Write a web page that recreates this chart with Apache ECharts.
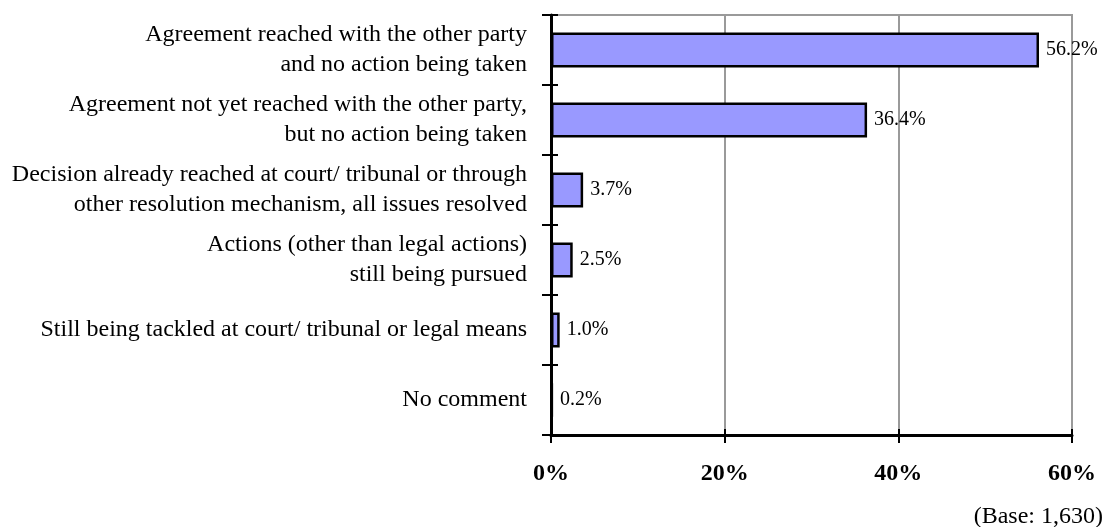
<!DOCTYPE html>
<html>
<head>
<meta charset="utf-8">
<title>Current status of the dispute</title>
<script src="https://cdn.jsdelivr.net/npm/echarts@6/dist/echarts.min.js"></script>
<style>
  html, body { margin: 0; padding: 0; background: #ffffff; }
  #chart { width: 1104px; height: 527px; }
</style>
</head>
<body>
<div id="chart"></div>
<script>
// Status of the dispute (percentage of respondents)
var categories = [
  'Agreement reached with the other party\nand no action being taken',
  'Agreement not yet reached with the other party,\nbut no action being taken',
  'Decision already reached at court/ tribunal or through\nother resolution mechanism, all issues resolved',
  'Actions (other than legal actions)\nstill being pursued',
  'Still being tackled at court/ tribunal or legal means',
  'No comment'
];
var shares = [56.2, 36.4, 3.7, 2.5, 1.0, 0.2];
var axisMin = 0;
var axisMax = 60;
var axisStep = 20;
var baseNote = '(Base: 1,630)';

var serif = '"Liberation Serif", "Times New Roman", Times, serif';

var chart = echarts.init(document.getElementById('chart'), null, { renderer: 'canvas' });

chart.setOption({
  animation: false,
  backgroundColor: '#ffffff',
  grid: {
    left: 551,
    right: 32,
    top: 15,
    bottom: 92,
    show: true,
    borderColor: '#9a9a9a',
    borderWidth: 2,
    backgroundColor: 'transparent'
  },
  xAxis: [
    {
      type: 'value',
      position: 'bottom',
      min: axisMin,
      max: axisMax,
      interval: axisStep,
      axisLine: { show: true, onZero: false, lineStyle: { color: '#000000', width: 3 } },
      axisTick: { show: true, inside: false, length: 8, lineStyle: { color: '#000000', width: 2 } },
      splitLine: { show: true, lineStyle: { color: '#9a9a9a', width: 2 } },
      axisLabel: {
        margin: 27,
        fontFamily: serif,
        fontSize: 24,
        fontWeight: 'bold',
        color: '#000000',
        formatter: function (v) { return v + '%'; }
      }
    },
    {
      // short inner half of the crossing tick marks
      type: 'value',
      position: 'bottom',
      min: axisMin,
      max: axisMax,
      interval: axisStep,
      axisLine: { show: false },
      axisTick: { show: true, inside: true, length: 6, lineStyle: { color: '#000000', width: 2 } },
      splitLine: { show: false },
      axisLabel: { show: false }
    }
  ],
  yAxis: [
    {
      type: 'category',
      data: categories,
      inverse: true,
      position: 'left',
      axisLine: { show: true, lineStyle: { color: '#000000', width: 3 } },
      axisTick: { show: true, inside: false, length: 9, lineStyle: { color: '#000000', width: 2 } },
      splitLine: { show: false },
      axisLabel: {
        margin: 24,
        fontFamily: serif,
        fontSize: 24,
        lineHeight: 30,
        color: '#000000',
        align: 'right'
      }
    },
    {
      type: 'category',
      data: categories,
      inverse: true,
      position: 'left',
      axisLine: { show: false },
      axisTick: { show: true, inside: true, length: 7, lineStyle: { color: '#000000', width: 2 } },
      splitLine: { show: false },
      axisLabel: { show: false }
    }
  ],
  series: [
    {
      type: 'bar',
      xAxisIndex: 0,
      yAxisIndex: 0,
      data: shares,
      barWidth: '50%',
      z: 5,
      itemStyle: {
        color: '#9999ff',
        borderColor: '#000000',
        borderWidth: 2.5
      },
      label: {
        show: true,
        position: 'right',
        distance: 7,
        fontFamily: serif,
        fontSize: 20,
        color: '#000000',
        formatter: function (p) { return p.value.toFixed(1) + '%'; }
      }
    }
  ],
  graphic: [
    {
      type: 'text',
      right: 1,
      top: 505,
      style: {
        text: baseNote,
        fontFamily: serif,
        fontSize: 24,
        fill: '#000000'
      }
    }
  ]
});
</script>
</body>
</html>
